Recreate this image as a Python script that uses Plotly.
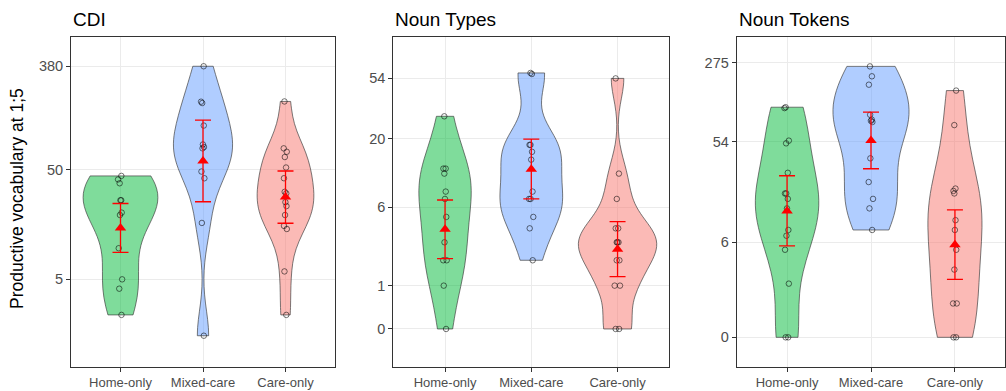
import numpy as np
import plotly.graph_objects as go

groups = ["Home-only", "Mixed-care", "Care-only"]
panel_titles = ["CDI", "Noun Types", "Noun Tokens"]
y_title = "Productive vocabulary at 1;5"

# raw values (axis is log10(x+1))
cdi_home = [44, 41, 38, 27, 27, 21, 20, 10, 5, 4, 2]
cdi_mixed = [380, 190, 185, 119, 82, 78, 76, 48, 42, 17, 1]
cdi_care = [191, 76, 71, 64, 52, 42, 32, 31, 26, 24, 20, 16, 15, 6, 2]

types_home = [29, 12, 12, 11, 8, 7, 5, 3, 2, 2, 1, 0]
types_mixed = [59, 58, 18, 18, 16, 14, 8, 7, 7, 5, 4, 2]
types_care = [54, 11, 7, 4, 4, 3, 3, 3, 2, 2, 1, 1, 0, 0]

tokens_home = [110, 108, 55, 52, 28, 18, 18, 16, 13, 8, 7, 5, 2, 0, 0]
tokens_mixed = [255, 208, 175, 94, 85, 83, 81, 38, 23, 16, 13, 8]
tokens_care = [155, 76, 20, 19, 18, 10, 8, 5, 3, 1, 1, 0, 0]

cdi_mean = [15.3, 59.3, 28.8]
cdi_lo = [9.15, 26.2, 16.9]
cdi_hi = [25.3, 132.6, 48.5]
types_mean = [3.92, 11.88, 2.58]
types_lo = [2.08, 7.0, 1.31]
types_hi = [6.87, 19.8, 4.56]
tokens_mean = [12.3, 55.3, 5.65]
tokens_lo = [5.49, 30.5, 2.27]
tokens_hi = [26.3, 99.4, 12.6]

cdi_ticks = [5, 50, 380]
types_ticks = [0, 1, 6, 20, 54]
tokens_ticks = [0, 6, 54, 275]

panels = [
    dict(data=[cdi_home, cdi_mixed, cdi_care], mean=cdi_mean, lo=cdi_lo, hi=cdi_hi,
         ticks=cdi_ticks, yrange=[0.039, 2.831], widths=[0.90, 0.715, 0.687]),
    dict(data=[types_home, types_mixed, types_care], mean=types_mean, lo=types_lo, hi=types_hi,
         ticks=types_ticks, yrange=[-0.262, 2.030], widths=[0.607, 0.727, 0.908]),
    dict(data=[tokens_home, tokens_mixed, tokens_care], mean=tokens_mean, lo=tokens_lo, hi=tokens_hi,
         ticks=tokens_ticks, yrange=[-0.261, 2.672], widths=[0.755, 0.905, 0.644]),
]

fills = ["rgba(0,186,56,0.5)", "rgba(97,156,255,0.5)", "rgba(248,118,109,0.5)"]

W, H = 1006, 391
x_doms = [(71, 335), (393.3, 669.3), (736.7, 1005.3)]
y_dom = (1 - 366.7 / H, 1 - 36.7 / H)

def tr(v):
    return np.log10(np.asarray(v, dtype=float) + 1)

def nrd0(v):
    v = np.asarray(v, dtype=float)
    n = len(v)
    sd = np.std(v, ddof=1)
    q75, q25 = np.percentile(v, [75, 25])
    lo = min(sd, (q75 - q25) / 1.34)
    if lo <= 0:
        lo = sd if sd > 0 else 1.0
    return 0.9 * lo * n ** -0.2

fig = go.Figure()
font_family = "Liberation Sans, Arial, sans-serif"

for pi, p in enumerate(panels):
    xa = "x" if pi == 0 else f"x{pi+1}"
    ya = "y" if pi == 0 else f"y{pi+1}"
    for gi, g in enumerate(groups):
        yv = tr(p["data"][gi])
        fig.add_trace(go.Violin(
            x=[g] * len(yv), y=yv, xaxis=xa, yaxis=ya,
            width=p["widths"][gi], scalemode="width", spanmode="hard",
            bandwidth=nrd0(yv),
            fillcolor=fills[gi], line=dict(color="rgba(60,60,60,0.75)", width=0.9),
            points="all", jitter=0.09, pointpos=0,
            marker=dict(symbol="circle-open", size=5.5, color="rgba(0,0,0,0.6)",
                        line=dict(width=0.9)),
            box_visible=False, meanline_visible=False, showlegend=False,
            hoverinfo="skip",
        ))
    m = tr(p["mean"])
    lo = tr(p["lo"])
    hi = tr(p["hi"])
    fig.add_trace(go.Scatter(
        x=groups, y=m, xaxis=xa, yaxis=ya, mode="markers",
        marker=dict(symbol="triangle-up", size=10, color="#FF0000"),
        error_y=dict(type="data", symmetric=False, array=hi - m, arrayminus=m - lo,
                     color="#FF0000", thickness=1.3, width=8),
        showlegend=False, hoverinfo="skip",
    ))

layout = dict(
    width=W, height=H, margin=dict(l=0, r=0, t=0, b=0),
    paper_bgcolor="white", plot_bgcolor="white",
    font=dict(family=font_family, color="#4D4D4D"),
)
annotations = []
for pi, p in enumerate(panels):
    sx = "" if pi == 0 else str(pi + 1)
    layout["xaxis" + sx] = dict(
        domain=[x_doms[pi][0] / W, x_doms[pi][1] / W], anchor="y" + sx,
        type="category", categoryorder="array", categoryarray=groups,
        range=[-0.6, 2.6], showgrid=True, gridcolor="#EBEBEB", gridwidth=1,
        showline=True, linecolor="#333333", linewidth=1, mirror=True,
        ticks="outside", ticklen=4, tickcolor="#333333",
        tickfont=dict(size=13, color="#4D4D4D", family=font_family), zeroline=False,
    )
    layout["yaxis" + sx] = dict(
        domain=list(y_dom), anchor="x" + sx, range=p["yrange"],
        tickvals=list(tr(p["ticks"])), ticktext=[str(t) for t in p["ticks"]],
        showgrid=True, gridcolor="#EBEBEB", gridwidth=1,
        showline=True, linecolor="#333333", linewidth=1, mirror=True,
        ticks="outside", ticklen=4, tickcolor="#333333",
        tickfont=dict(size=14.5, color="#4D4D4D", family=font_family), zeroline=False,
    )
    annotations.append(dict(
        text=panel_titles[pi], xref="paper", yref="paper",
        x=x_doms[pi][0] / W, y=1 - 19.5 / H, xanchor="left", yanchor="middle",
        showarrow=False, font=dict(size=19, color="black", family=font_family),
    ))
annotations.append(dict(
    text=y_title, xref="paper", yref="paper", x=17 / W, y=1 - 199 / H,
    xanchor="center", yanchor="middle", textangle=-90, showarrow=False,
    font=dict(size=17.5, color="black", family=font_family),
))
layout["annotations"] = annotations
fig.update_layout(**layout)
fig.write_html("out.html", config={"displayModeBar": False})

# remove the default page margin so the figure sits at the window's top-left corner
with open("out.html", "r", encoding="utf-8") as f:
    html = f.read()
html = html.replace("<head>", "<head><style>html,body{margin:0;padding:0;overflow:hidden;}</style>", 1)
with open("out.html", "w", encoding="utf-8") as f:
    f.write(html)
